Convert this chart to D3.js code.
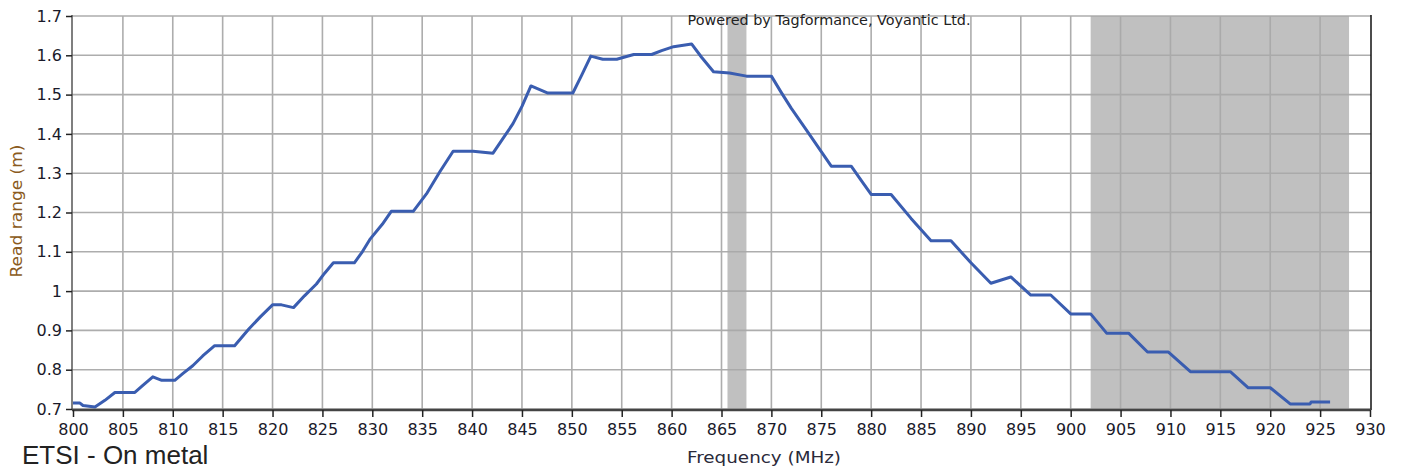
<!DOCTYPE html>
<html><head><meta charset="utf-8">
<script src="https://cdn.jsdelivr.net/npm/d3@7"></script>
<style>html,body{margin:0;padding:0;background:#fff;overflow:hidden}</style>
</head><body>
<svg id="c" width="1402" height="470"></svg>
<script>
const freq = [800, 800.7, 801, 802.2, 803.2, 804.2, 806.2, 807, 808, 808.9, 810.2, 811, 812, 813, 814.2, 816.2, 817.6, 818.8, 820, 820.9, 822.1, 823.2, 824.4, 825.2, 826.1, 828.2, 829, 829.8, 831, 831.9, 834.1, 835.5, 836.8, 838.1, 840.1, 842.1, 843, 844.1, 845, 845.9, 847.6, 850.1, 851, 851.9, 853.1, 854.5, 856.2, 858, 859, 860.2, 862, 863, 864.2, 865.8, 867.5, 870, 871, 872, 873.5, 875, 876, 878, 879, 880, 882, 884, 886, 888, 890, 892, 894, 896, 898, 900, 902, 903.6, 905.8, 907.7, 909.8, 912, 916, 917.8, 920, 922, 924, 924.1, 926];
const readRange = [0.715, 0.715, 0.709, 0.705, 0.722, 0.742, 0.742, 0.76, 0.782, 0.773, 0.773, 0.79, 0.81, 0.835, 0.861, 0.861, 0.903, 0.935, 0.965, 0.965, 0.958, 0.988, 1.018, 1.045, 1.072, 1.072, 1.1, 1.133, 1.17, 1.203, 1.203, 1.25, 1.305, 1.356, 1.356, 1.351, 1.385, 1.426, 1.47, 1.522, 1.504, 1.504, 1.55, 1.598, 1.59, 1.59, 1.602, 1.602, 1.612, 1.622, 1.629, 1.595, 1.558, 1.555, 1.547, 1.547, 1.505, 1.465, 1.41, 1.355, 1.318, 1.318, 1.282, 1.246, 1.246, 1.185, 1.128, 1.128, 1.072, 1.02, 1.036, 0.99, 0.99, 0.942, 0.942, 0.893, 0.893, 0.845, 0.845, 0.795, 0.795, 0.754, 0.754, 0.713, 0.713, 0.718, 0.718];
const bandStart = [865.6, 902];
const bandEnd = [867.5, 927.9];
const xTicks = d3.range(800, 931, 5);
const yTicks = [0.7, 0.8, 0.9, 1.0, 1.1, 1.2, 1.3, 1.4, 1.5, 1.6, 1.7];
const xTitle = "Frequency (MHz)";
const yTitle = "Read range (m)";
const watermark = "Powered by Tagformance, Voyantic Ltd.";
const caption = "ETSI - On metal";

const svg = d3.select("#c");
const x = d3.scaleLinear().domain([800, 930]).range([73, 1370]);
const y = d3.scaleLinear().domain([0.7, 1.7]).range([409, 16]);
const L = 72, R = 1371, T = 16, B = 410;

// bands
svg.append("g").selectAll("rect").data(bandStart).join("rect")
  .attr("x", (d) => x(d)).attr("y", T)
  .attr("width", (d, i) => x(bandEnd[i]) - x(d)).attr("height", B - T)
  .attr("fill", "#c0c0c0");

// grid
const grid = svg.append("g").attr("stroke", "#a9a9a9").attr("stroke-width", 1.6).attr("opacity", 0.95);
grid.selectAll("line.v").data(xTicks.slice(1, -1)).join("line").attr("class", "v")
  .attr("x1", d => x(d)).attr("x2", d => x(d)).attr("y1", T).attr("y2", B);
grid.selectAll("line.h").data(yTicks).join("line").attr("class", "h")
  .attr("x1", L).attr("x2", R).attr("y1", d => y(d)).attr("y2", d => y(d));

// frame
svg.append("line").attr("x1", R).attr("x2", R).attr("y1", T - 1).attr("y2", B).attr("stroke", "#111").attr("stroke-width", 1.5);
svg.append("line").attr("x1", L).attr("x2", L).attr("y1", T - 1).attr("y2", B).attr("stroke", "#555").attr("stroke-width", 1.5);

// watermark
svg.append("text").attr("x", 829).attr("y", 25).attr("text-anchor", "middle")
  .attr("font-family", "DejaVu Sans").attr("font-size", 13.5).attr("fill", "#222")
  .attr("textLength", 283).attr("lengthAdjust", "spacingAndGlyphs").text(watermark);

// line
const line = d3.line().x((d, i) => x(freq[i])).y(d => y(d));
svg.append("path").datum(readRange).attr("d", line).attr("fill", "none")
  .attr("stroke", "#3a5db0").attr("stroke-width", 3).attr("stroke-linejoin", "round");

// axes
const xAxis = d3.axisBottom(x).tickValues(xTicks).tickSize(7).tickSizeOuter(0).tickPadding(7).tickFormat(d3.format("d"));
const gx = svg.append("g").attr("transform", `translate(0,${B})`).call(xAxis);
gx.select(".domain").attr("stroke", "#444").attr("stroke-width", 2.5).attr("d", `M${L},0H${R}`);
gx.selectAll(".tick line").attr("stroke", "#222").attr("stroke-width", 1.5);
gx.selectAll("text").attr("font-family", "DejaVu Sans").attr("font-size", 16).attr("fill", "#1a1a2a");

const yAxis = d3.axisLeft(y).tickValues(yTicks).tickSize(6).tickSizeOuter(0).tickPadding(4)
  .tickFormat(d => Math.abs(d - 1) < 1e-9 ? "1" : d3.format(".1f")(d));
const gy = svg.append("g").attr("transform", `translate(${L},0)`).call(yAxis);
gy.select(".domain").remove();
gy.selectAll(".tick line").attr("stroke", "#222").attr("stroke-width", 1.5);
gy.selectAll("text").attr("font-family", "DejaVu Sans").attr("font-size", 16).attr("fill", "#1a1a2a");

// titles
svg.append("text").attr("x", 764).attr("y", 463).attr("text-anchor", "middle")
  .attr("font-family", "DejaVu Sans").attr("font-size", 15).attr("fill", "#2a2a3a")
  .attr("textLength", 154).attr("lengthAdjust", "spacingAndGlyphs").text(xTitle);
svg.append("text").attr("transform", "translate(22,211) rotate(-90)").attr("text-anchor", "middle")
  .attr("font-family", "DejaVu Sans").attr("font-size", 15).attr("fill", "#8a5a20")
  .attr("textLength", 133).attr("lengthAdjust", "spacingAndGlyphs").text(yTitle);

svg.append("text").attr("x", 22).attr("y", 464)
  .attr("font-family", "Liberation Sans").attr("font-size", 26).attr("fill", "#222")
  .text(caption);
</script>
</body></html>
